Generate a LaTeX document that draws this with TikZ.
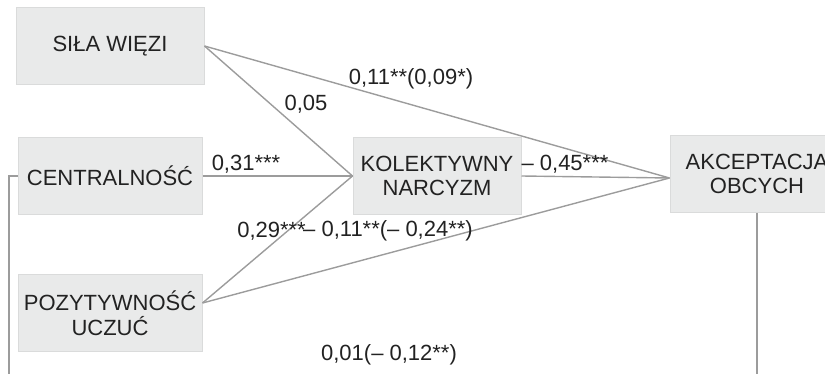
\documentclass[tikz,border=0pt]{standalone}
\usepackage{fontspec}
\setmainfont{Liberation Sans}
\usepackage{tikz}
\usetikzlibrary{calc}
\definecolor{boxfill}{HTML}{E9EAEA}
\definecolor{boxline}{HTML}{DADBDB}
\definecolor{linegray}{HTML}{9C9C9C}
\definecolor{textgray}{HTML}{222222}
\tikzset{
	varbox/.style={draw=boxline,fill=boxfill,line width=1pt,align=center,inner sep=0pt,minimum height=77pt,text=textgray},
	link/.style={draw=linegray,line width=1.4pt},
	coef/.style={inner sep=0pt,text=textgray}
}

\begin{document}
\begin{tikzpicture}[x=1pt,y=-1pt,font=\fontsize{22}{24.5}\selectfont]
	\clip (0,0) rectangle (825,374);
	\node[varbox,minimum width=188pt] (sila) at (110,46) {SIŁA WIĘZI};
	\node[varbox,minimum width=184pt] (central) at (110,176) {CENTRALNOŚĆ};
	\node[varbox,minimum width=184pt] (pozytyw) at (110,313) {POZYTYWNOŚĆ\\UCZUĆ};
	\node[varbox,minimum width=168pt] (narcyzm) at (437,176) {KOLEKTYWNY\\NARCYZM};
	\node[varbox,minimum width=174pt] (akcept) at (757,174) {AKCEPTACJA\\OBCYCH};
	\coordinate (dolL) at (9,374);
	\coordinate (dolP) at (757,374);
	\draw[link] (sila.east)--([yshift=-4pt]akcept.west);
	\draw[link] (sila.east)--(narcyzm.west);
	\draw[link] (central.east)--(narcyzm.west);
	\draw[link] ([yshift=10pt]pozytyw.east)--(narcyzm.west);
	\draw[link] ([yshift=10pt]pozytyw.east)--([yshift=-4pt]akcept.west);
	\draw[link] (narcyzm.east)--([yshift=-4pt]akcept.west);
	\draw[link] (central.west)-|(dolL);
	\draw[link] (akcept.south)--(dolP);
	\node[coef] (w1) at (411,79) {0,11**(0,09*)};
	\node[coef] (w2) at (306,104) {0,05};
	\node[coef] (w3) at (246,164) {0,31***};
	\node[coef] (w4) at (565,164) {– 0,45***};
	\node[coef,anchor=east] (w5) at (306,231) {0,29***};
	\node[coef,anchor=west] (w6) at (303,231) {– 0,11**(– 0,24**)};
	\node[coef] (w7) at (389,355) {0,01(– 0,12**)};
\end{tikzpicture}
\end{document}
